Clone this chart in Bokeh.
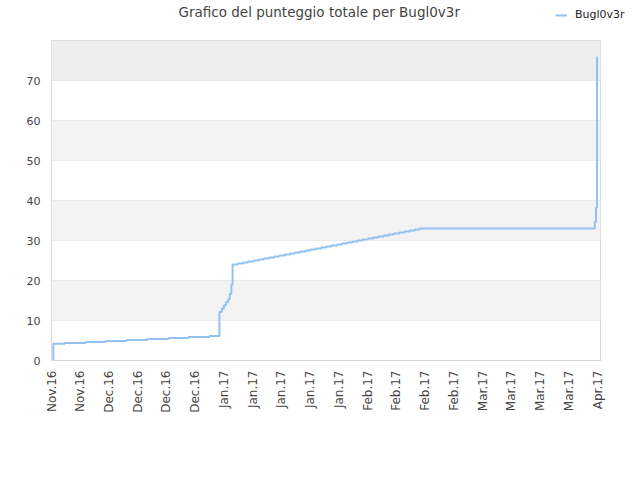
import pandas as pd
from math import pi
from bokeh.plotting import figure
from bokeh.layouts import column, row
from bokeh.models import (FixedTicker, DatetimeTickFormatter, BoxAnnotation, Legend,
                          LegendItem, Range1d, Label)
from bokeh.embed import file_html
from bokeh.resources import INLINE

# ---------------- data ----------------
title_text = "Grafico del punteggio totale per Bugl0v3r"
series_name = "Bugl0v3r"
start_date = "2016-11-20"
end_day = 133.7

tick_dates = ["2016-11-20", "2016-11-27", "2016-12-04", "2016-12-11", "2016-12-18",
              "2016-12-25", "2017-01-01", "2017-01-08", "2017-01-15", "2017-01-22",
              "2017-01-29", "2017-02-05", "2017-02-12", "2017-02-19", "2017-02-26",
              "2017-03-05", "2017-03-12", "2017-03-19", "2017-03-26", "2017-04-02"]

# days after start_date, and total score from that moment on
day_offsets = [0.40, 0.45, 3.2, 8.3, 13.2, 18.3, 23.3, 28.5, 33.4, 38.5,
               40.9, 41.5, 42.0, 42.5, 43.0, 43.4, 43.8,
               44.1, 45.4, 46.7, 47.9, 49.2, 50.5, 51.7, 53.0, 54.3, 55.5,
               56.8, 58.1, 59.3, 60.6, 61.9, 63.1, 64.4, 65.7, 66.9, 68.2,
               69.5, 70.7, 72.0, 73.3, 74.5, 75.8, 77.1, 78.3, 79.6, 80.9,
               82.1, 83.4, 84.7, 85.9, 87.2, 88.5, 89.7,
               132.3, 132.6, 132.85]
scores = [0.0, 4.2, 4.4, 4.65, 4.9, 5.15, 5.4, 5.65, 5.9, 6.15,
          12.1, 13.0, 13.8, 14.6, 15.3, 16.6, 19.0,
          24.0, 24.25, 24.5, 24.75, 25.0, 25.25, 25.5, 25.75, 26.0, 26.25,
          26.5, 26.75, 27.0, 27.25, 27.5, 27.75, 28.0, 28.25, 28.5, 28.75,
          29.0, 29.25, 29.5, 29.75, 30.0, 30.25, 30.5, 30.75, 31.0, 31.25,
          31.5, 31.75, 32.0, 32.25, 32.5, 32.75, 33.0,
          34.7, 38.2, 76.0]

y_max = 80
y_ticks = [0, 10, 20, 30, 40, 50, 60, 70]
light_bands = [(10, 20), (30, 40), (50, 60)]
dark_bands = [(70, 80)]

FONT = "DejaVu Sans"
LINE_COLOR = "#93c2f2"
LEFT, RIGHT, TOP, BOTTOM = 51, 40, 40, 120

# ---------------- header (title + legend) ----------------
h = figure(width=640, height=TOP, output_backend="svg", toolbar_location=None,
           x_range=Range1d(LEFT, 640), y_range=Range1d(TOP, 0),
           min_border_left=LEFT, min_border_right=0, min_border_top=0,
           min_border_bottom=0, x_axis_location=None, y_axis_location=None)
h.grid.visible = False
h.outline_line_color = None
h.add_layout(Label(x=178, y=11, text=title_text, text_font=FONT,
                   text_font_size="13.5px", text_color="#444444",
                   text_baseline="middle", text_align="left"))
# legend swatch renderer, kept outside the visible range
swatch = h.line([-20, -10], [-20, -20], line_color=LINE_COLOR, line_width=2)
legend = Legend(items=[LegendItem(label=series_name, renderers=[swatch])],
                location=(555 - LEFT, 19), padding=0, margin=0, glyph_width=12,
                glyph_height=10, label_standoff=8, border_line_color=None,
                background_fill_alpha=0, label_text_font=FONT,
                label_text_font_size="11px", label_text_color="#222222")
h.add_layout(legend)

# ---------------- main chart ----------------
t0 = pd.Timestamp(start_date)
xs = [t0 + pd.Timedelta(days=d) for d in day_offsets]

p = figure(width=640, height=480 - TOP, output_backend="svg", toolbar_location=None,
           x_axis_type="datetime",
           x_range=Range1d(t0, t0 + pd.Timedelta(days=end_day)),
           y_range=Range1d(0, y_max),
           min_border_left=LEFT, min_border_right=RIGHT, min_border_top=0,
           min_border_bottom=BOTTOM)

p.outline_line_color = "#d8d8d8"
p.xgrid.grid_line_color = None
p.ygrid.grid_line_color = "#e0e0e0"
p.ygrid.ticker = FixedTicker(ticks=y_ticks)

for lo, hi in light_bands:
    p.add_layout(BoxAnnotation(bottom=lo, top=hi, fill_color="#f3f3f3", fill_alpha=1,
                               line_color=None, level="underlay"))
for lo, hi in dark_bands:
    p.add_layout(BoxAnnotation(bottom=lo, top=hi, fill_color="#eeeeee", fill_alpha=1,
                               line_color=None, level="underlay"))

r = p.step(xs, scores, mode="after", line_color=LINE_COLOR, line_width=2)

# y axis
p.yaxis.ticker = FixedTicker(ticks=y_ticks)
p.yaxis.axis_line_color = None
p.yaxis.major_tick_line_color = None
p.yaxis.minor_tick_line_color = None
p.yaxis.major_tick_out = 0
p.yaxis.major_label_standoff = 11
p.yaxis.major_label_text_font = FONT
p.yaxis.major_label_text_font_size = "11px"
p.yaxis.major_label_text_color = "#444444"

# x axis
tick_ms = [pd.Timestamp(d).value / 1e6 for d in tick_dates]
p.xaxis.ticker = FixedTicker(ticks=tick_ms)
fmt = "%b.%y"
p.xaxis.formatter = DatetimeTickFormatter(
    microseconds=fmt, milliseconds=fmt, seconds=fmt, minsec=fmt, minutes=fmt,
    hourmin=fmt, hours=fmt, days=fmt, months=fmt, years=fmt)
p.xaxis.axis_line_color = "#d8d8d8"
p.xaxis.major_tick_line_color = None
p.xaxis.minor_tick_line_color = None
p.xaxis.major_tick_out = 0
p.xaxis.major_label_orientation = pi / 2
p.xaxis.major_label_standoff = 10
p.xaxis.major_label_text_font = FONT
p.xaxis.major_label_text_font_size = "12px"
p.xaxis.major_label_text_color = "#444444"

layout = column(row(h, spacing=0), row(p, spacing=0), spacing=0)
open("out.html", "w").write(file_html(layout, INLINE))
